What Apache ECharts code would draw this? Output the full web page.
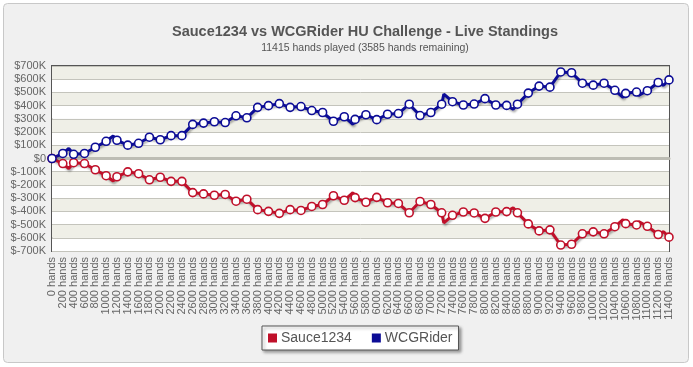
<!DOCTYPE html>
<html>
<head>
<meta charset="utf-8">
<script src="https://cdn.jsdelivr.net/npm/echarts@6/dist/echarts.min.js"></script>
<style>
html,body{margin:0;padding:0;background:#ffffff;}
#chart{width:693px;height:367px;}
</style>
</head>
<body>
<div id="chart"></div>
<script>
// Hands at which markers are drawn (tick labels every 200 hands)
var markerHands = [0,200,400,600,800,1000,1200,1400,1600,1800,2000,2200,2400,2600,2800,3000,3200,3400,3600,3800,4000,4200,4400,4600,4800,5000,5200,5400,5600,5800,6000,6200,6400,6600,6800,7000,7200,7400,7600,7800,8000,8200,8400,8600,8800,9000,9200,9400,9600,9800,10000,10200,10400,10600,10800,11000,11200,11400];
// WCGRider standings at each marker (dollars)
var wcgMarkers = [0,38000,32000,38000,85000,130000,138000,101000,115000,161000,142000,173000,173000,258000,268000,278000,272000,323000,308000,387000,400000,415000,387000,393000,363000,348000,282000,316000,296000,331000,294000,335000,340000,411000,325000,348000,411000,430000,405000,412000,453000,405000,402000,411000,495000,548000,540000,655000,649000,570000,555000,570000,516000,493000,503000,513000,575000,595000];
// Sauce1234 standings at each marker (dollars)
var sauceMarkers = [0,-38000,-32000,-38000,-85000,-130000,-138000,-101000,-115000,-161000,-142000,-173000,-173000,-258000,-268000,-278000,-272000,-323000,-308000,-387000,-400000,-415000,-387000,-393000,-363000,-348000,-282000,-316000,-296000,-331000,-294000,-335000,-340000,-411000,-325000,-348000,-411000,-430000,-405000,-412000,-453000,-405000,-402000,-411000,-495000,-548000,-540000,-655000,-649000,-570000,-555000,-570000,-516000,-493000,-503000,-513000,-575000,-595000];
// Intermediate swings between markers (no marker drawn)
var swingHands = [310,1130,5560,7240,8520,10550,10840,11300];
var wcgSwings = [76000,170000,258000,488000,372000,463000,478000,554000];
var sauceSwings = [-76000,-170000,-258000,-488000,-372000,-463000,-478000,-554000];

var title = 'Sauce1234 vs WCGRider HU Challenge - Live Standings';
var subtitle = '11415 hands played (3585 hands remaining)';
var seriesNames = ['Sauce1234','WCGRider'];
var FONT = '"Liberation Sans", Arial, sans-serif';

function buildData(mk, sw){
  var d = [];
  for (var i=0;i<markerHands.length;i++) d.push({value:[markerHands[i], mk[i]]});
  for (var j=0;j<swingHands.length;j++) d.push({value:[swingHands[j], sw[j]], symbol:'none'});
  d.sort(function(a,b){return a.value[0]-b.value[0];});
  return d;
}

var chart = echarts.init(document.getElementById('chart'), null, {renderer:'canvas'});
var RED = '#c0102a', BLUE = '#0c0c96';
function lineSeries(name, color, data){
  return {
    name:name, type:'line', data:data, xAxisIndex:0,
    symbol:'circle', symbolSize:8, showAllSymbol:true,
    itemStyle:{color:'#ffffff', borderColor:color, borderWidth:1.6},
    lineStyle:{color:color, width:3, shadowColor:'rgba(0,0,0,0.3)', shadowBlur:2, shadowOffsetX:1, shadowOffsetY:2},
    emphasis:{disabled:true}, animation:false
  };
}
chart.setOption({
  animation:false,
  backgroundColor:'transparent',
  graphic:[{type:'rect', z:-10, silent:true, shape:{x:3.5,y:3.5,width:685,height:359,r:4}, style:{fill:'#f0f0f0', stroke:'#c8c8c8', lineWidth:1}}],
  title:{
    text:title, subtext:subtitle, left:360, textAlign:'center', top:19, itemGap:4,
    textStyle:{fontFamily:FONT, fontSize:14.5, fontWeight:'bold', color:'#555555'},
    subtextStyle:{fontFamily:FONT, fontSize:10.5, color:'#555555'}
  },
  legend:{
    data:[{name:'Sauce1234', itemStyle:{color:RED}},{name:'WCGRider', itemStyle:{color:BLUE}}],
    left:262, top:326, icon:'rect', itemWidth:7, itemHeight:7, itemGap:20,
    padding:[5,6,5,6], backgroundColor:'#ffffff', borderColor:'#555555', borderWidth:1,
    shadowColor:'rgba(0,0,0,0.35)', shadowBlur:3, shadowOffsetX:2, shadowOffsetY:2,
    textStyle:{fontFamily:FONT, fontSize:14, color:'#555555'}, selectedMode:false
  },
  grid:{left:52, right:24, top:66, bottom:116, show:true, borderColor:'#555555', borderWidth:2, backgroundColor:'transparent'},
  xAxis:[{
    type:'value', min:0, max:11400, interval:200, position:'bottom',
    axisLine:{show:false, onZero:false}, axisTick:{show:false}, splitLine:{show:false},
    axisLabel:{rotate:90, margin:6, fontFamily:FONT, fontSize:11, color:'#666666',
      showMinLabel:true, showMaxLabel:true, formatter:function(v){return v+' hands';}}
  },{
    type:'value', min:0, max:11400, position:'bottom',
    axisLine:{show:true, onZero:true, lineStyle:{color:'#bdbdb4', width:3}},
    axisTick:{show:false}, axisLabel:{show:false}, splitLine:{show:false}
  }],
  yAxis:{
    type:'value', min:-700000, max:700000, interval:100000,
    axisLine:{show:false}, axisTick:{show:false},
    splitLine:{lineStyle:{color:'#c4c4bc', width:1}},
    splitArea:{show:true, areaStyle:{color:['#ffffff','#efefe7']}},
    axisLabel:{margin:6, fontFamily:FONT, fontSize:11, color:'#666666',
      formatter:function(v){return v===0?'$0':'$'+(v/1000)+'K';}}
  },
  series:[
    lineSeries(seriesNames[0], RED, buildData(sauceMarkers, sauceSwings)),
    lineSeries(seriesNames[1], BLUE, buildData(wcgMarkers, wcgSwings))
  ]
});
</script>
</body>
</html>
